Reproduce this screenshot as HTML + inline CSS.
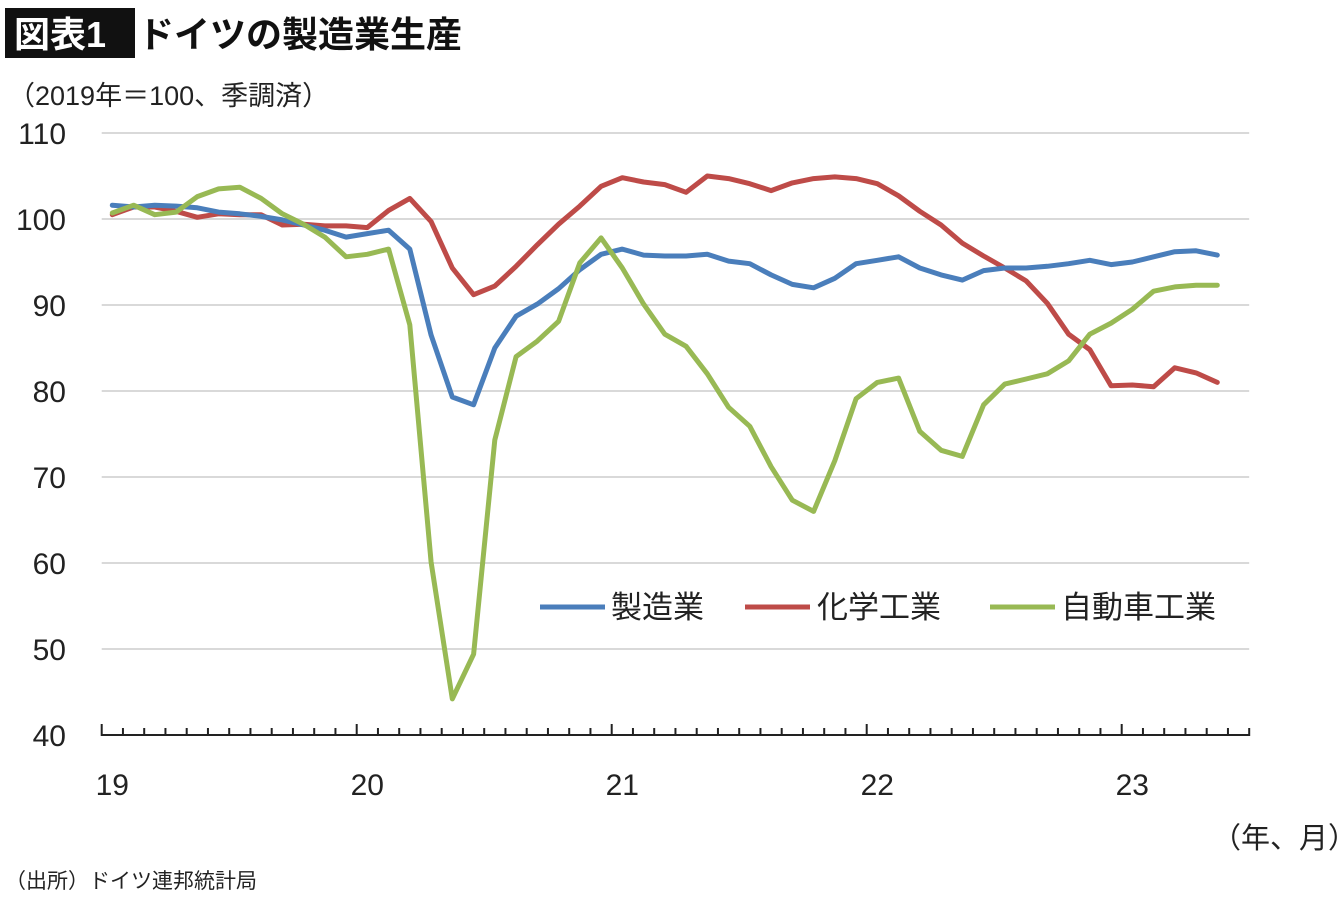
<!DOCTYPE html>
<html><head><meta charset="utf-8"><style>
body{margin:0;background:#fff;width:1340px;height:900px;overflow:hidden;font-family:"Liberation Sans","Noto Sans CJK JP",sans-serif}
</style></head><body>
<svg width="1340" height="900" xmlns="http://www.w3.org/2000/svg" style="font-family:'Liberation Sans','Noto Sans CJK JP',sans-serif">
<rect x="5" y="8" width="130" height="50" fill="#111"/>
<text x="14" y="47" font-size="36" font-weight="bold" fill="#fff">図表1</text>
<text x="138" y="47" font-size="36" font-weight="bold" fill="#111">ドイツの製造業生産</text>
<text x="8" y="105" font-size="27" fill="#222">（2019年＝100、季調済）</text>
<g id="grid"></g><g id="ylabels"></g><g id="xaxis"></g><g id="series"></g>
<g>
<line x1="540" y1="607" x2="605" y2="607" stroke="#4a7ebb" stroke-width="5"/>
<text x="611" y="618" font-size="31" fill="#222">製造業</text>
<line x1="745" y1="607" x2="810" y2="607" stroke="#be4b48" stroke-width="5"/>
<text x="817" y="618" font-size="31" fill="#222">化学工業</text>
<line x1="990" y1="607" x2="1055" y2="607" stroke="#98b954" stroke-width="5"/>
<text x="1061" y="618" font-size="31" fill="#222">自動車工業</text>
</g>
<text x="1212" y="848" font-size="29" fill="#222">（年、月）</text>
<text x="5" y="888" font-size="21" fill="#222">（出所）ドイツ連邦統計局</text>
</svg>
<script>
const yTicks=[40,50,60,70,80,90,100,110];
const yearLabels=["19","20","21","22","23"];
const manufacturing=[101.6,101.4,101.6,101.5,101.3,100.8,100.6,100.3,99.9,99.3,98.7,97.9,98.3,98.7,96.5,86.5,79.3,78.4,85.0,88.7,90.1,91.9,94.1,95.9,96.5,95.8,95.7,95.7,95.9,95.1,94.8,93.5,92.4,92.0,93.1,94.8,95.2,95.6,94.3,93.5,92.9,94.0,94.3,94.3,94.5,94.8,95.2,94.7,95.0,95.6,96.2,96.3,95.8];
const chemical=[100.5,101.4,101.4,100.9,100.2,100.6,100.5,100.5,99.3,99.4,99.2,99.2,99.0,101.0,102.4,99.7,94.3,91.2,92.2,94.5,97.0,99.4,101.5,103.8,104.8,104.3,104.0,103.1,105.0,104.7,104.1,103.3,104.2,104.7,104.9,104.7,104.1,102.7,100.9,99.3,97.2,95.7,94.3,92.8,90.2,86.6,84.8,80.6,80.7,80.5,82.7,82.1,81.0];
const automotive=[100.7,101.6,100.5,100.8,102.6,103.5,103.7,102.4,100.6,99.4,97.9,95.6,95.9,96.5,87.7,60.1,44.2,49.4,74.3,84.0,85.8,88.1,94.9,97.8,94.3,90.1,86.6,85.2,82.0,78.1,75.9,71.2,67.3,66.0,71.9,79.1,81.0,81.5,75.3,73.1,72.4,78.4,80.8,81.4,82.0,83.5,86.6,87.9,89.5,91.6,92.1,92.3,92.3];
const NS="http://www.w3.org/2000/svg";
const L=101.7,DX=21.25,NCAT=54,R=L+NCAT*DX;
const xs=i=>L+DX/2+i*DX;
const ys=v=>735-(v-40)*8.6;
function mk(t,a,p){const e=document.createElementNS(NS,t);for(const k in a)e.setAttribute(k,a[k]);p.appendChild(e);return e;}
const grid=document.getElementById('grid'),yl=document.getElementById('ylabels'),xa=document.getElementById('xaxis'),sg=document.getElementById('series');
yTicks.forEach(v=>{
 if(v>40){const g=mk('line',{x1:L,x2:R,y1:ys(v),y2:ys(v),stroke:'#d9d9d9','stroke-width':2},grid);
 
 }
 const t=mk('text',{x:66,y:ys(v)+11,'font-size':30,'text-anchor':'end',fill:'#222'},yl);t.textContent=v;
 
 
});
const ax=mk('line',{x1:L,x2:R,y1:735,y2:735,stroke:'#222','stroke-width':2},xa);


for(let i=0;i<=NCAT;i++){
 const big=(i%12===0);
 const tk=mk('line',{x1:L+i*DX,x2:L+i*DX,y1:big?724:728,y2:736,stroke:'#222','stroke-width':2},xa);
 
 
}
yearLabels.forEach((s,k)=>{
 const t=mk('text',{x:xs(k*12),y:795,'font-size':30,'text-anchor':'middle',fill:'#222'},xa);t.textContent=s;
 
 
});
function line(arr,col,name){
 const d=arr.map((v,i)=>(i?'L':'M')+xs(i).toFixed(1)+','+ys(v).toFixed(1)).join(' ');
 const p=mk('path',{d:d,fill:'none',stroke:col,'stroke-width':5,'stroke-linejoin':'round','stroke-linecap':'round'},sg);
 
 
}
line(chemical,'#be4b48','series-chemical');
line(manufacturing,'#4a7ebb','series-manufacturing');
line(automotive,'#98b954','series-automotive');
</script>
</body></html>
